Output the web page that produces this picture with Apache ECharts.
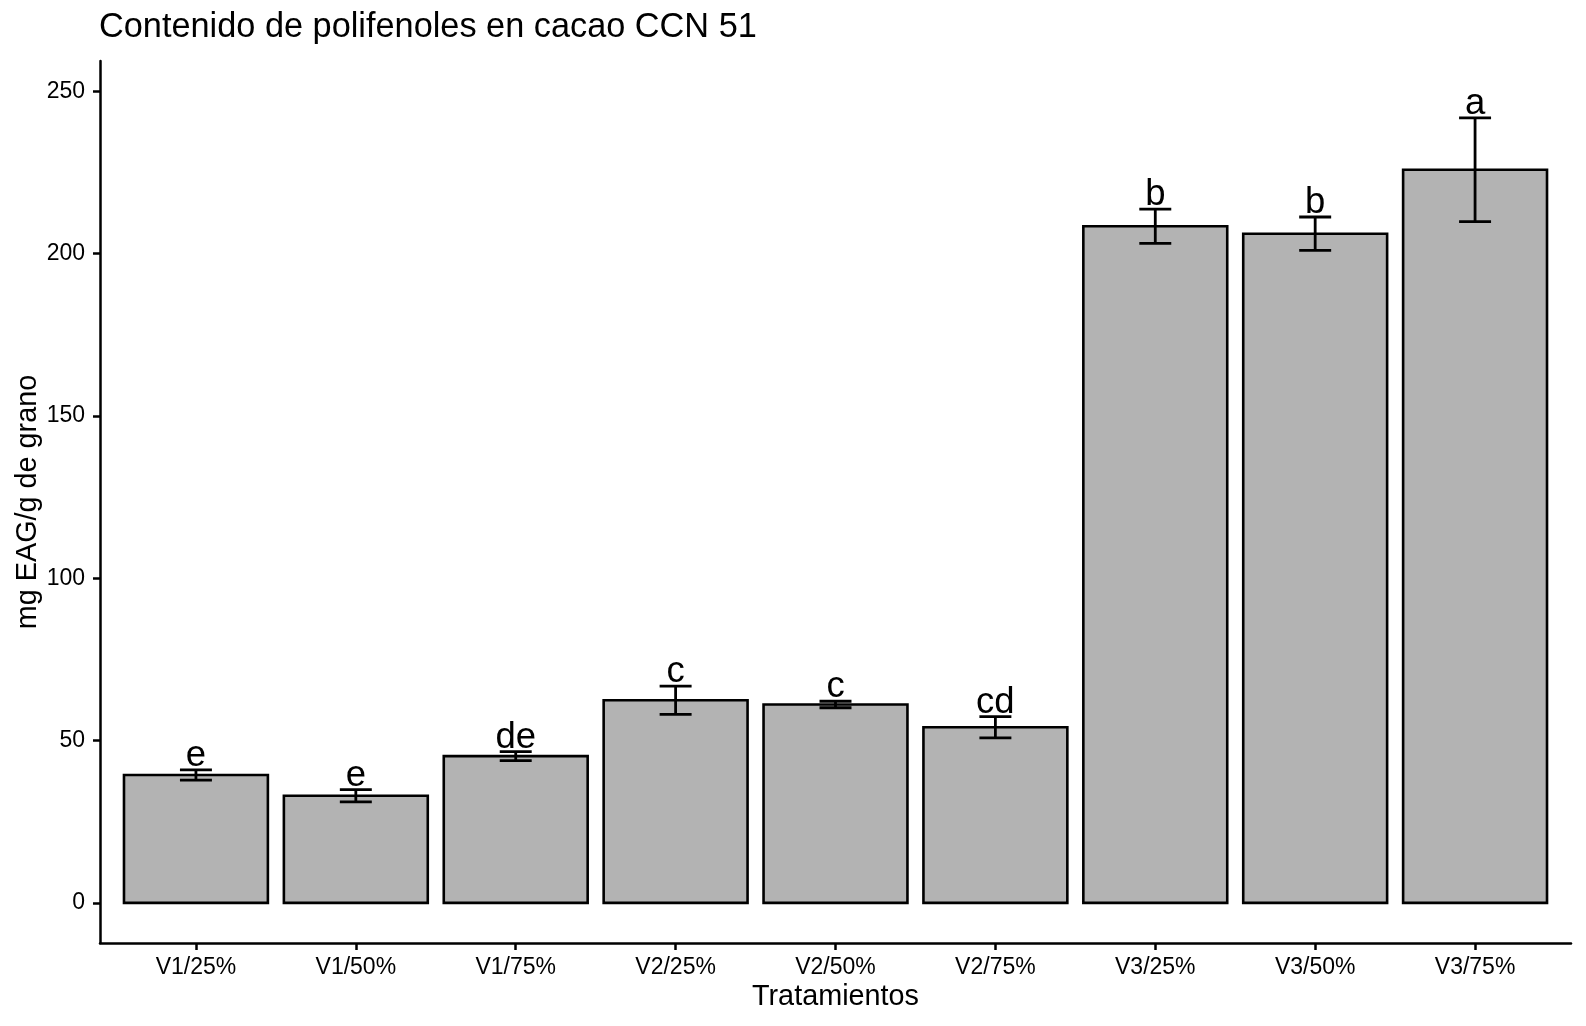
<!DOCTYPE html>
<html>
<head>
<meta charset="utf-8">
<script src="https://cdn.jsdelivr.net/npm/echarts@6/dist/echarts.min.js"></script>
<style>
html,body{margin:0;padding:0;background:#fff;}
#chart{width:1586px;height:1026px;}
</style>
</head>
<body>
<div id="chart"></div>
<script>
var categories = ['V1/25%','V1/50%','V1/75%','V2/25%','V2/50%','V2/75%','V3/25%','V3/50%','V3/75%'];
var means = [39.4, 33.0, 45.2, 62.4, 61.1, 54.1, 208.4, 206.1, 225.8];
var sds = [1.6, 1.9, 1.4, 4.35, 1.0, 3.3, 5.3, 5.15, 16.0];
var letters = ['e','e','de','c','c','cd','b','b','a'];
var yTicks = [0, 50, 100, 150, 200, 250];

var FONT = 'Liberation Sans, Arial, Helvetica, sans-serif';
var data = categories.map(function(c, i){ return [i, means[i], sds[i], letters[i]]; });
var xIdx = categories.map(function(c, i){ return i; });

var chart = echarts.init(document.getElementById('chart'), null, {renderer:'canvas'});
var option = {
  backgroundColor: '#ffffff',
  animation: false,
  title: {
    text: 'Contenido de polifenoles en cacao CCN 51',
    left: 99, top: 11, padding: 0,
    textStyle: {fontFamily: FONT, fontSize: 34.3, fontWeight: 'normal', color: '#000', lineHeight: 34}
  },
  grid: {left: 100, right: 15, top: 61, bottom: 83, containLabel: false},
  xAxis: {
    type: 'value', min: -0.6, max: 8.6,
    name: 'Tratamientos', nameLocation: 'middle', nameGap: 40, nameMoveOverlap: false,
    nameTextStyle: {fontFamily: FONT, fontSize: 28.8, color: '#000', lineHeight: 29},
    axisLine: {show: true, onZero: false, lineStyle: {color: '#000', width: 2.5}},
    axisTick: {show: true, length: 7, lineStyle: {color: '#000', width: 2.5}, customValues: xIdx},
    axisLabel: {
      show: true, margin: 13, customValues: xIdx,
      fontFamily: FONT, fontSize: 23, color: '#000', lineHeight: 23,
      formatter: function(v){ return categories[Math.round(v)]; }
    },
    splitLine: {show: false}
  },
  yAxis: {
    type: 'value', min: -12.35, max: 259.3,
    name: 'mg EAG/g de grano', nameLocation: 'middle', nameRotate: 90, nameGap: 57, nameMoveOverlap: false,
    nameTextStyle: {fontFamily: FONT, fontSize: 28.8, color: '#000', lineHeight: 29},
    axisLine: {show: true, onZero: false, lineStyle: {color: '#000', width: 2.5}},
    axisTick: {show: true, length: 7, lineStyle: {color: '#000', width: 2.5}, customValues: yTicks},
    axisLabel: {
      show: true, margin: 15, customValues: yTicks,
      fontFamily: FONT, fontSize: 23, color: '#000'
    },
    splitLine: {show: false}
  },
  series: [
    {
      type: 'custom',
      data: data,
      encode: {x: 0, y: 1},
      clip: false,
      renderItem: function(params, api){
        var x = api.value(0), v = api.value(1);
        var top = api.coord([x, v]);
        var base = api.coord([x, 0]);
        var w = api.size([0.9, 0])[0];
        return {
          type: 'rect',
          shape: {x: top[0] - w/2, y: top[1], width: w, height: base[1] - top[1]},
          style: {fill: '#B3B3B3', stroke: '#000', lineWidth: 2.6}
        };
      },
      z: 2
    },
    {
      type: 'custom',
      data: data,
      encode: {x: 0, y: 1},
      clip: false,
      renderItem: function(params, api){
        var x = api.value(0), v = api.value(1), sd = api.value(2);
        var hi = api.coord([x, v + sd]);
        var lo = api.coord([x, v - sd]);
        var cw = api.size([0.2, 0])[0];
        var ls = {stroke: '#000', lineWidth: 2.8};
        return {
          type: 'group',
          children: [
            {type: 'line', shape: {x1: hi[0], y1: hi[1], x2: lo[0], y2: lo[1]}, style: ls},
            {type: 'line', shape: {x1: hi[0]-cw/2, y1: hi[1], x2: hi[0]+cw/2, y2: hi[1]}, style: ls},
            {type: 'line', shape: {x1: lo[0]-cw/2, y1: lo[1], x2: lo[0]+cw/2, y2: lo[1]}, style: ls},
            {type: 'text', x: hi[0], y: hi[1] + 4,
              style: {text: letters[params.dataIndex], fontFamily: FONT, fontSize: 36.5, lineHeight: 36,
                      fill: '#000', align: 'center', verticalAlign: 'bottom'}}
          ]
        };
      },
      z: 3
    }
  ]
};
chart.setOption(option);
</script>
</body>
</html>
